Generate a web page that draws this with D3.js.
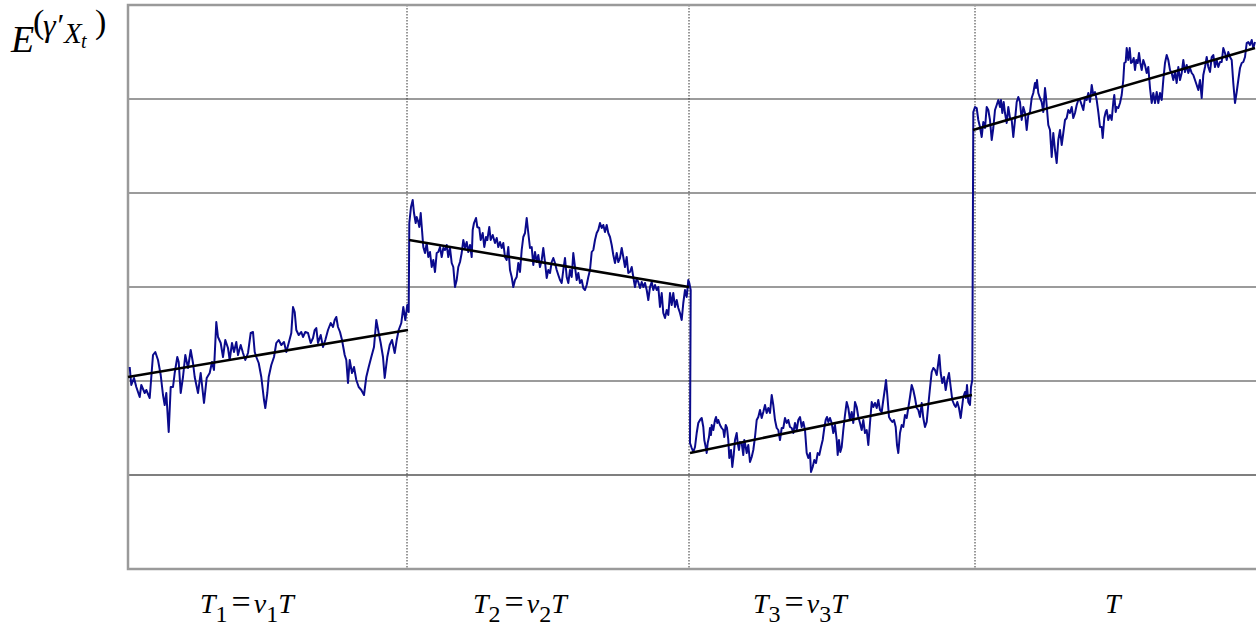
<!DOCTYPE html>
<html>
<head>
<meta charset="utf-8">
<script src="https://cdn.jsdelivr.net/npm/d3@7"></script>
<style>
  html, body { margin: 0; padding: 0; background: #fff; }
  svg { display: block; }
</style>
</head>
<body>
<svg id="chart"></svg>
<script>
// time index (x) and level (y), one unit per pixel step of the original plot
const seg1 = [[1.7,202],[3.3,184],[6,191],[8.3,182],[11.7,172],[13.3,184],[16.7,176],[18.3,179],[21.7,171],[25,214],
  [27.3,217],[30,209],[32.7,194],[35,174],[36.7,164],[38.3,176],[40.7,137],[42.7,182],[45,182],[46.7,196],
  [49.3,212],[50.7,207],[52.7,176],[55,192],[57.3,214],[60,201],[62.7,219],[65,206],[66.7,192],[70,176],
  [72.7,196],[76,166],[78.7,191],[81.7,196],[84,207],[86,199],[88.3,247],[90,232],[92.7,226],[95,212],
  [97.3,229],[100,221],[101.7,209],[104,226],[106,217],[108.3,227],[110,214],[112.7,224],[115,216],[117.3,209],
  [120,216],[122.7,236],[125,237],[126.7,217],[128.3,212],[130.7,206],[133.3,192],[136,169],[137.3,161],[139.3,176],
  [140.7,192],[143.3,204],[146,212],[148.3,226],[150.7,229],[153.3,224],[156,227],[158.3,217],[160.7,226],[163.3,236],
  [165,262],[166.7,257],[168.3,239],[170.7,234],[173.3,237],[175,232],[177.3,237],[180,236],[182.7,226],[185,231],
  [186.7,239],[188.3,241],[190,226],[192.7,234],[195,222],[197.3,229],[200,239],[202.7,246],[205,242],[206.7,249],
  [208.3,252],[210,242],[212,237],[214,229],[216.7,214],[218.3,209],[220,186],[221.7,209],[224,196],[226,202],
  [228.3,189],[230.7,182],[233.3,179],[236,174],[238.3,192],[240.7,202],[243.3,212],[246,222],[248.3,249],[250.7,236],
  [252.7,226],[255,212],[256.7,191],[259.3,212],[261.7,224],[264,229],[266.7,216],[268.7,229],[270.7,239],[273.3,246],
  [275.3,262],[277.3,249],[279.3,264],[280.7,257]];

const seg2 = [[281.3,346],[283,362],[284.7,369],[286,356],[287.7,346],[288.7,352],[290.3,347],[291.3,342],[292.7,356],[294,339],
  [295.3,322],[297,316],[298.7,326],[300.3,312],[302,317],[303.7,302],[305.3,309],[307,297],[308.7,316],[310.3,317],
  [312,322],[313.7,312],[315.3,321],[317,319],[318.7,324],[320.3,312],[322,321],[323.7,306],[325.3,302],[327,282],
  [328.7,289],[330.3,302],[332,307],[333.7,316],[335.3,329],[337,321],[338.7,327],[340.3,317],[342,324],[343.7,312],
  [344.7,339],[346,346],[348,351],[349.3,342],[351.3,341],[352.7,329],[354.7,336],[356.3,322],[358,332],[359.3,329],
  [361.3,342],[362.7,329],[364.7,334],[367,326],[368.7,331],[370.3,322],[372,327],[373.7,321],[375.3,326],[377,312],
  [378.7,309],[380.3,322],[382,299],[383.7,292],[385.3,282],[387,289],[388.7,292],[390.3,306],[392,297],[393.7,319],
  [395.3,332],[397,336],[398.7,351],[400.3,336],[402,321],[403.7,322],[405.3,304],[407,317],[408.7,307],[410.3,314],
  [412,302],[413.7,309],[415.3,321],[417,307],[418.7,291],[420.3,299],[422,296],[423.7,307],[425.3,311],[427,306],
  [428.7,299],[430.3,294],[432,289],[433.7,286],[435.3,299],[437,311],[438.7,292],[440.3,286],[442,299],[443.7,292],
  [445.3,316],[447,302],[448.7,289],[450.3,296],[452,286],[453.7,289],[455.3,281],[457,279],[458.7,284],[460.3,292],
  [462,299],[463.7,317],[465.3,319],[467,329],[468.7,336],[470.3,339],[472,346],[473.7,341],[475.3,344],[477,337],
  [478.7,344],[480.3,336],[482,332],[483.7,324],[485.3,314],[487,306],[488.7,316],[490.3,307],[492,311],[493.7,321],
  [495.3,312],[497,302],[498.7,312],[500.3,296],[502,297],[503.7,302],[505.3,292],[507,282],[508.7,291],[510.3,287],
  [512,281],[513.7,287],[515.3,282],[517,286],[518.7,279],[520.3,269],[522,282],[523.7,287],[525.3,279],[527,284],
  [528.7,279],[530.3,282],[532,262],[533.7,276],[535.3,256],[537,251],[538.7,259],[540.3,254],[542,276],[543.7,264],
  [545.3,276],[547,262],[548.7,269],[550.3,261],[552,256],[553.7,249],[555.3,266],[557,279],[558.7,272],[560.3,289],
  [561.3,286],[562.7,279]];

const seg3 = [[562,126],[563.7,121],[565.3,117],[567,122],[568.7,136],[570.3,146],[572,149],[573.7,151],[575.3,142],[576.3,129],
  [577.7,122],[578.7,116],[579.7,126],[581,132],[582,141],[583,134],[583.7,144],[585.3,139],[587,149],[588,152],
  [589.3,146],[590.3,149],[592,144],[593.7,141],[595.3,139],[596.3,132],[597.7,144],[599,141],[600.3,129],[601.3,111],
  [603,119],[604.3,102],[605.7,114],[607,129],[608.7,136],[609.7,126],[611,119],[612,127],[613.7,126],[615.3,114],
  [616.3,129],[617.7,122],[618.7,116],[620.3,124],[622,107],[623.7,112],[625.3,119],[627,132],[628.7,149],[630.3,152],
  [632,159],[633.7,151],[635.3,157],[637,164],[638.7,156],[640.3,161],[642,156],[643.7,174],[645.3,164],[647,149],
  [648.7,141],[650.3,139],[652,129],[653.7,141],[655.3,141],[657,151],[658.7,146],[660.3,149],[662,142],[663.7,141],
  [665.3,136],[667,146],[668.7,139],[670.3,149],[672,152],[673.7,142],[675.3,147],[677,139],[678.7,116],[680.3,111],
  [682,116],[683,97],[684.7,102],[686.3,109],[688,106],[689.7,116],[691.3,114],[693,122],[694.7,129],[696.3,141],
  [697.7,149],[699,152],[700.3,147],[702,151],[703.7,146],[705.3,136],[707,144],[708.7,129],[709.7,114],[711,129],
  [712.3,117],[713.7,122],[715.3,139],[717,154],[718.7,167],[720.3,161],[722,149],[723.7,157],[725.3,146],[727,167],
  [728.7,162],[730.3,152],[732,146],[733.7,139],[735.3,149],[737,136],[738.7,139],[740.3,124],[742,146],[743.7,167],
  [745.3,162],[747,166],[748.7,161],[750.3,169],[752,159],[753.7,157],[755.3,169],[757,181],[758,189],[759.3,174],
  [761,152],[762.7,149],[764.3,147],[766,149],[767.7,142],[769,124],[770.3,116],[772,136],[773.7,144],[775.3,142],
  [777,154],[778.7,151],[780.3,161],[782,172],[783.7,184],[785.3,179],[787,171],[788.7,161],[790.3,159],[792,152],
  [793.7,166],[795.3,151],[797,142],[798.7,147],[800.3,164],[802,181],[803.7,197],[805.3,201],[807,199],[808.7,194],
  [810.3,206],[811.3,214],[812.7,196],[814.3,186],[816,192],[817.7,179],[819.3,189],[821,196],[822.7,182],[824.3,169],
  [826.3,164],[827.7,162],[829.3,167],[831,161],[832.7,151],[833.7,159],[835.3,172],[837,177],[838,171],[839,184],
  [840.3,167],[842,164],[843,182],[844.3,189]];

const seg4 = [[845.3,457],[847,462],[848.7,461],[850.3,449],[852,442],[853.7,432],[855.3,447],[857,441],[858.7,462],[860.3,459],
  [862,449],[863.7,429],[865.3,441],[867,459],[868.7,464],[870.3,469],[872,462],[873,469],[874.3,456],[875.7,467],
  [877,456],[878.7,446],[880.3,462],[882,451],[883.7,449],[885.3,432],[887,449],[888.7,467],[890.3,472],[892,467],
  [893.7,449],[895.3,462],[897,456],[898.7,439],[900.3,454],[902,457],[903.7,471],[905.3,476],[907,486],[908,481],
  [909,489],[910.3,476],[912,471],[913.7,467],[915.3,457],[917,481],[918,472],[919.3,456],[920.3,444],[922,439],
  [923.7,412],[925.3,436],[927,419],[928.7,406],[930.3,429],[932,439],[933.7,424],[935.3,436],[937,449],[938.7,451],
  [940.3,459],[942,456],[943.7,462],[945.3,451],[947,456],[948.7,464],[950.3,469],[952,469],[953.7,464],[955.3,459],
  [957,471],[958.7,469],[960.3,476],[962,467],[963.7,484],[965.3,474],[967,477],[968.7,469],[970.3,457],[972,442],
  [973.7,442],[974.7,431],[976.3,451],[977.7,457],[978.7,459],[980.3,449],[982,454],[983.7,449],[985.3,467],[986.3,474],
  [987.7,457],[988.7,462],[990.3,461],[992,466],[993.7,474],[995.3,489],[996.3,506],[997.7,507],[998.7,521],[1000.3,509],
  [1001.7,521],[1003,506],[1004.3,507],[1005.7,511],[1007,499],[1008.3,509],[1009.7,506],[1011,516],[1012.3,506],[1013.7,499],
  [1015.3,509],[1017,504],[1018.7,496],[1020.3,502],[1022,481],[1023.7,466],[1025.3,476],[1027,466],[1028.7,477],[1030.3,466],
  [1032,476],[1033.7,469],[1035.3,489],[1037,506],[1038.7,514],[1040.3,509],[1042,499],[1043.7,496],[1045.3,489],[1047,497],
  [1048.7,486],[1050.3,502],[1052,489],[1053.7,496],[1055.3,509],[1057,497],[1058.7,504],[1060.3,496],[1062,501],[1063.7,496],
  [1065.3,494],[1067,489],[1068.7,484],[1070.3,479],[1072,489],[1073.7,471],[1075.3,494],[1077,502],[1078.7,512],[1080.3,502],
  [1082,497],[1083.7,512],[1085.3,514],[1087,502],[1088.7,509],[1090.3,502],[1092,507],[1093.7,507],[1095.3,521],[1097,516],
  [1098.7,509],[1100.3,517],[1102,512],[1103.7,509],[1105.3,486],[1107,466],[1108.7,477],[1110.3,489],[1112,501],[1113.7,506],
  [1115.3,507],[1117,512],[1118.7,526],[1120.3,527],[1122,524],[1123.7,529],[1125.3,521],[1127,527]];

const trendStart = [[0,192],[281,329],[562,116],[845,439]];
const trendEnd = [[280,239],[561,282],[844,174],[1127,521]];

const gridLevels = [94, 188, 282, 376, 470];
const breakTimes = [279, 561, 847];

// bottom labels: [main, subscript, factor, factor subscript]
const labelTimes = [72, 345, 625, 977];
const labelParts = [["T", "1", "v", "1"], ["T", "2", "v", "2"], ["T", "3", "v", "3"], ["T", "", "", ""]];

const serif = "'Liberation Serif', 'Times New Roman', Times, serif";

const width = 1256, height = 627;
const margin = { top: 5, right: 0, bottom: 58, left: 128 };

const svg = d3.select("#chart").attr("width", width).attr("height", height)
  .style("font-family", serif);

const x = d3.scaleLinear().domain([0, 1128]).range([margin.left, width - margin.right]);
const y = d3.scaleLinear().domain([0, 564]).range([height - margin.bottom, margin.top]);

// grid
svg.append("g").selectAll("line")
  .data(gridLevels)
  .enter().append("line")
  .attr("x1", x(0)).attr("x2", x(1128))
  .attr("y1", d => y(d)).attr("y2", d => y(d))
  .attr("stroke", (d, i) => i === 0 ? "#000" : "#7a7a7a")
  .attr("stroke-width", (d, i) => i === 0 ? 1.2 : 1.3);

// dotted separators
svg.append("g").selectAll("line")
  .data(breakTimes)
  .enter().append("line")
  .attr("x1", d => x(d)).attr("x2", d => x(d))
  .attr("y1", y(564)).attr("y2", y(0))
  .attr("stroke", "#333")
  .attr("stroke-width", 1)
  .attr("stroke-dasharray", "1.5,1.5");

// frame
svg.append("rect")
  .attr("x", x(0)).attr("y", y(564))
  .attr("width", x(1130) - x(0) + 4).attr("height", y(0) - y(564))
  .attr("fill", "none")
  .attr("stroke", "#9a9a9a")
  .attr("stroke-width", 2.5);

// noisy path
const path = seg1.concat(seg2, seg3, seg4);
const line = d3.line().x(d => x(d[0])).y(d => y(d[1]));

svg.append("path")
  .datum(path)
  .attr("d", line)
  .attr("fill", "none")
  .attr("stroke", "#0a0a8c")
  .attr("stroke-width", 2)
  .attr("stroke-linejoin", "round");

// trend lines
svg.append("g").selectAll("line")
  .data(trendStart)
  .enter().append("line")
  .attr("x1", d => x(d[0])).attr("y1", d => y(d[1]))
  .attr("x2", (d, i) => x(trendEnd[i][0])).attr("y2", (d, i) => y(trendEnd[i][1]))
  .attr("stroke", "#000")
  .attr("stroke-width", 2.6);

// bottom labels
labelTimes.forEach((t, i) => {
  const p = labelParts[i];
  const txt = svg.append("text")
    .attr("x", x(t))
    .attr("y", 613)
    .attr("font-family", serif)
    .style("font-size", "28px");
  txt.append("tspan").style("font-style", "italic").text(p[0]);
  if (p[1]) {
    txt.append("tspan").attr("dy", 9).style("font-size", "24px").text(p[1]);
    txt.append("tspan").attr("dy", -9).attr("dx", 4).style("font-size", "34px").text("=");
    txt.append("tspan").attr("dx", 3).style("font-style", "italic").text(p[2]);
    txt.append("tspan").attr("dy", 9).style("font-size", "24px").text(p[3]);
    txt.append("tspan").attr("dy", -9).style("font-style", "italic").text("T");
  }
});

// y label E(γ'Xt)
const yl = svg.append("g").attr("font-family", serif);
yl.append("text").attr("x", 11).attr("y", 52).style("font-size", "38px").style("font-style", "italic").text("E");
yl.append("text").attr("x", 33).attr("y", 33).style("font-size", "34px").text("(");
yl.append("text").attr("x", 43).attr("y", 36).style("font-size", "32px").style("font-style", "italic").text("γ′");
yl.append("text").attr("x", 64).attr("y", 43).style("font-size", "29px").style("font-style", "italic").text("X");
yl.append("text").attr("x", 81).attr("y", 48).style("font-size", "20px").style("font-style", "italic").text("t");
yl.append("text").attr("x", 95).attr("y", 33).style("font-size", "34px").text(")");
</script>
</body>
</html>
